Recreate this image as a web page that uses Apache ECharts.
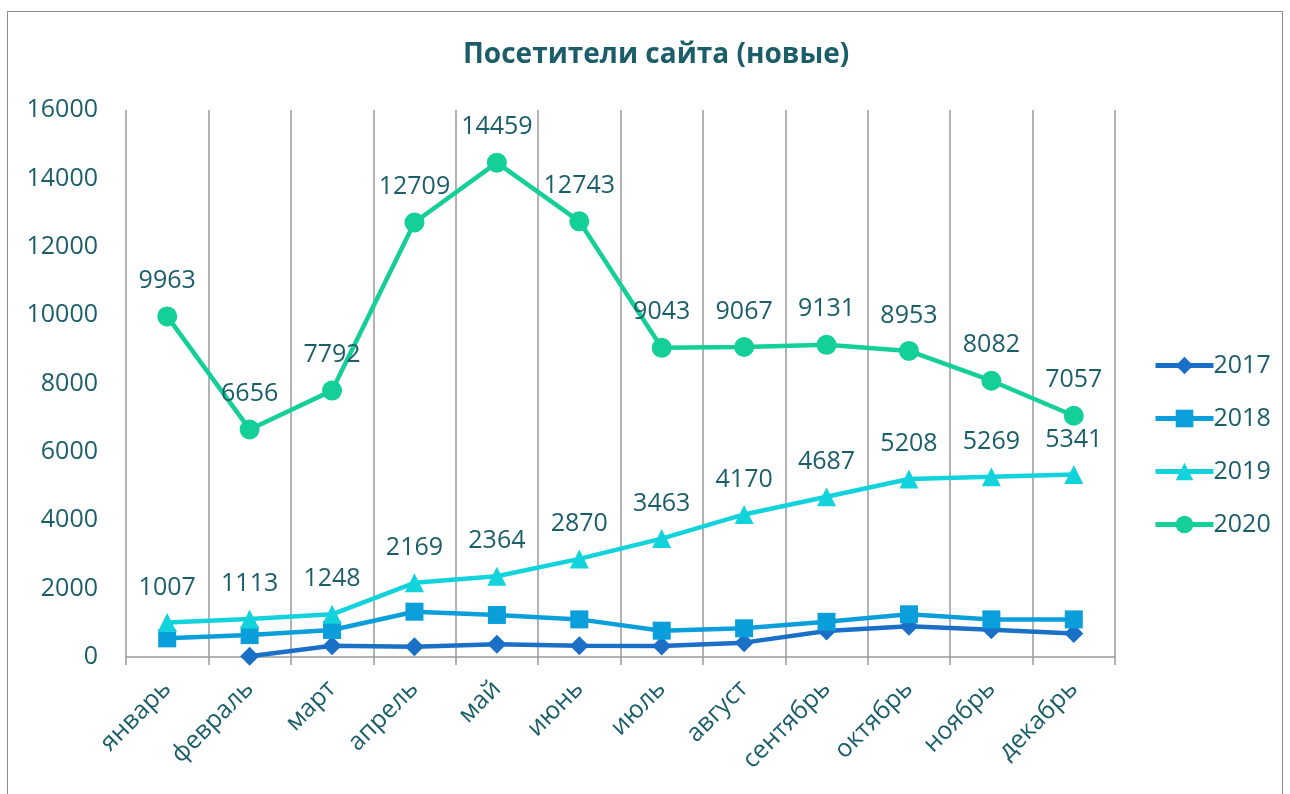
<!DOCTYPE html>
<html><head><meta charset="utf-8">
<script src="https://cdn.jsdelivr.net/npm/echarts@6/dist/echarts.min.js"></script>
<style>
html,body{margin:0;padding:0;background:#fff;}
#frame{position:absolute;left:7px;top:11px;width:1276px;height:800px;border:1.5px solid #8c8c8c;box-sizing:border-box;}
#c{position:absolute;left:0;top:0;width:1290px;height:794px;}
</style></head>
<body>
<div id="frame"></div>
<div id="c"></div>
<script>
const months = ['январь','февраль','март','апрель','май','июнь','июль','август','сентябрь','октябрь','ноябрь','декабрь'];
const yTicks = [0,2000,4000,6000,8000,10000,12000,14000,16000];
const s2017 = [null,20,330,300,370,330,320,420,760,900,800,690];
const s2018 = [545,640,790,1325,1230,1100,770,840,1030,1250,1100,1100];
const s2019 = [1007,1113,1248,2169,2364,2870,3463,4170,4687,5208,5269,5341];
const s2020 = [9963,6656,7792,12709,14459,12743,9043,9067,9131,8953,8082,7057];

const txt = '#1b5e6a';
const font = 'Open Sans';
const chart = echarts.init(document.getElementById('c'));
function ser(name, data, color, symbol, size, showLabel){
  return {name, type:'line', data, symbol, symbolSize:size,
    lineStyle:{color, width:4.5}, itemStyle:{color},
    connectNulls:false,
    label:{show:showLabel, position:'top', distance:13, color:txt, fontFamily:font, fontSize:25},
    z: 2};
}
chart.setOption({
  animation:false,
  title:{text:'Посетители сайта (новые)', left:458, top:36,
    textStyle:{color:txt, fontFamily:font, fontSize:28, fontWeight:'bold'}},
  legend:{orient:'vertical', left:1148, top:348, itemGap:28, itemWidth:58, itemHeight:22,
    lineStyle:{width:5},
    textStyle:{color:txt, fontFamily:font, fontSize:25, padding:[0,0,0,-5]},
    data:['2017','2018','2019','2020']},
  grid:{left:126, right:175, top:110, bottom:137},
  xAxis:{type:'category', data:months, boundaryGap:true,
    axisLine:{lineStyle:{color:'#999', width:1.5}},
    axisTick:{show:true, length:8, lineStyle:{color:'#999', width:1.5}},
    splitLine:{show:true, lineStyle:{color:'#999', width:1.5}},
    axisLabel:{rotate:45, margin:28, color:txt, fontFamily:font, fontSize:25}},
  yAxis:{type:'value', min:yTicks[0], max:yTicks[yTicks.length-1], interval:2000,
    axisLine:{show:false}, axisTick:{show:false}, splitLine:{show:false},
    axisLabel:{margin:28, color:txt, fontFamily:font, fontSize:25, formatter: v => String(v)}},
  series:[
    ser('2017', s2017, '#1a6fc7', 'diamond', 19, false),
    ser('2018', s2018, '#0a9edb', 'rect', 18, false),
    ser('2019', s2019, '#12d2dc', 'triangle', 19, true),
    ser('2020', s2020, '#14cf98', 'circle', 20, true)
  ]
});
</script>
</body></html>
